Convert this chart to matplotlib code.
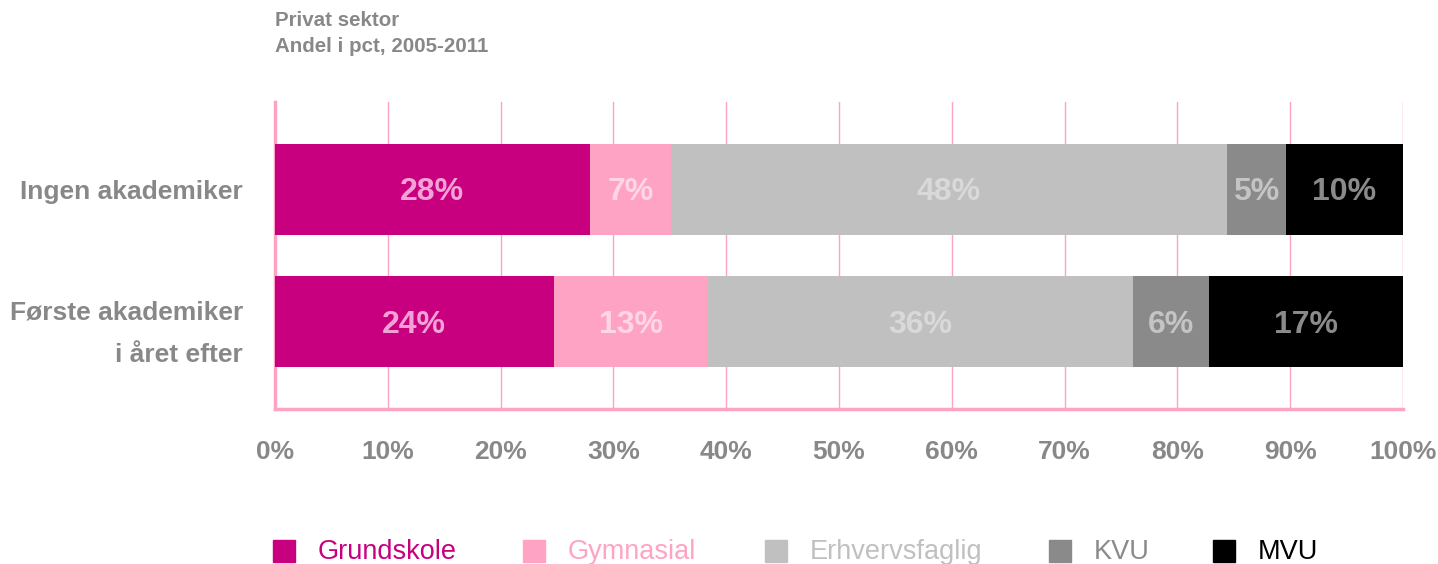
import numpy as np
import matplotlib
matplotlib.use("Agg")
import matplotlib.pyplot as plt

# Data (share in pct)
groups = ["Ingen akademiker", "Første akademiker\ni året efter"]
series = ["Grundskole", "Gymnasial", "Erhvervsfaglig", "KVU", "MVU"]
values = np.array([[27.9, 7.2, 49.3, 5.2, 10.4],
                   [24.7, 13.7, 37.7, 6.7, 17.2]])
labels = [["28%", "7%", "48%", "5%", "10%"],
          ["24%", "13%", "36%", "6%", "17%"]]
ticks = np.arange(0, 101, 10)

colors = ["#C8007F", "#FFA3C4", "#C0C0C0", "#8A8A8A", "#000000"]
label_colors = ["#F2A2D4", "#FFD6E6", "#D9D9D9", "#C4C4C4", "#8A8A8A"]
legend_text_colors = ["#C8007F", "#FFA3C4", "#C0C0C0", "#8A8A8A", "#000000"]
pink_line = "#FFA3C4"
grey_txt = "#888888"

plt.rcParams["font.family"] = ["Liberation Sans", "DejaVu Sans"]

fig = plt.figure(figsize=(14.38, 5.64), dpi=100)
ax = fig.add_axes([275 / 1438, 1 - 409 / 564, 1128 / 1438, 307 / 564])

y = np.arange(len(groups))
left = np.zeros(len(groups))
for j, name in enumerate(series):
    ax.barh(y, values[:, j], left=left, height=0.685, color=colors[j], zorder=3)
    for i in range(len(groups)):
        ax.text(left[i] + values[i, j] / 2, y[i] + 0.02, labels[i][j], ha="center", va="center",
                fontsize=23, fontweight="bold", color=label_colors[j], zorder=4)
    left += values[:, j]

ax.set_xlim(0, 100)
ax.set_ylim(1.655, -0.655)
ax.set_xticks(ticks)
ax.set_xticklabels([f"{t}%" for t in ticks], fontsize=19, fontweight="bold", color=grey_txt)
ax.set_yticks(y)
ax.set_yticklabels(groups, fontsize=19, fontweight="bold", color=grey_txt, linespacing=1.95)
ax.tick_params(axis="both", length=0)
ax.tick_params(axis="x", pad=22)
ax.tick_params(axis="y", pad=23)
ax.grid(axis="x", color=pink_line, linewidth=1, zorder=0)

ax.spines["top"].set_visible(False)
ax.spines["right"].set_visible(False)
ax.spines["left"].set_color(pink_line)
ax.spines["left"].set_linewidth(2.5)
ax.spines["bottom"].set_color(pink_line)
ax.spines["bottom"].set_linewidth(2.5)

# Title block
fig.text(275 / 1438, 1 - 20 / 564, "Privat sektor", fontsize=14.8, fontweight="bold",
         color=grey_txt, va="center", ha="left")
fig.text(275 / 1438, 1 - 46 / 564, "Andel i pct, 2005-2011", fontsize=14.8, fontweight="bold",
         color=grey_txt, va="center", ha="left")

# Legend along the bottom
sw_x = [273, 523, 765, 1049, 1213]
for k, name in enumerate(series):
    fig.patches.append(plt.Rectangle((sw_x[k] / 1438, 1 - 562 / 564), 22 / 1438, 22 / 564,
                                     transform=fig.transFigure, color=colors[k]))
    fig.text((sw_x[k] + 45) / 1438, 1 - 552 / 564, name, fontsize=19.5,
             color=legend_text_colors[k], va="center", ha="left")

fig.savefig("out.png", dpi=100)
